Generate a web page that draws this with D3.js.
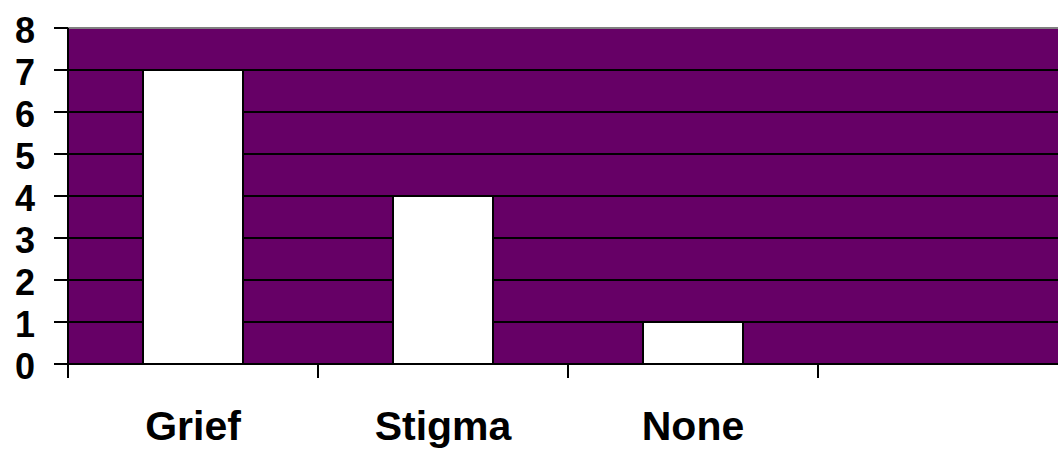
<!DOCTYPE html>
<html>
<head>
<meta charset="utf-8">
<script src="https://cdn.jsdelivr.net/npm/d3@7"></script>
<style>
  body { margin: 0; background: #fff; }
  svg { display: block; }
  text { font-family: "Liberation Sans", Arial, sans-serif; font-weight: bold; fill: #000; }
</style>
</head>
<body>
<svg id="chart" width="1058" height="449"></svg>
<script>
const categories = ['Grief', 'Stigma', 'None', ''];
const counts = [7, 4, 1, null];
const yTicks = [0, 1, 2, 3, 4, 5, 6, 7, 8];

const svg = d3.select('#chart');
const plotLeft = 68, plotRight = 1068, plotTop = 28, plotBottom = 364;

const x = d3.scaleBand().domain(categories).range([plotLeft, plotRight]).padding(0);
const y = d3.scaleLinear().domain([0, 8]).range([plotBottom, plotTop]);

// plot area
svg.append('rect')
  .attr('x', plotLeft).attr('y', plotTop)
  .attr('width', plotRight - plotLeft).attr('height', plotBottom - plotTop)
  .attr('fill', '#660066');

// gridlines
svg.append('g').selectAll('line')
  .data(yTicks.filter((d) => d > 0 && d < 8))
  .join('line')
  .attr('x1', plotLeft).attr('x2', plotRight)
  .attr('y1', (d) => y(d)).attr('y2', (d) => y(d))
  .attr('stroke', '#000').attr('stroke-width', 2);

// top border
svg.append('line')
  .attr('x1', plotLeft).attr('x2', plotRight)
  .attr('y1', y(8)).attr('y2', y(8))
  .attr('stroke', '#808080').attr('stroke-width', 2);

// bars
const data = categories.map((c, i) => ({ c, v: counts[i] })).filter((d) => d.v != null);
svg.append('g').selectAll('rect')
  .data(data)
  .join('rect')
  .attr('x', (d) => x(d.c) + x.bandwidth() * 0.3)
  .attr('width', x.bandwidth() * 0.4)
  .attr('y', (d) => y(d.v))
  .attr('height', (d) => y(0) - y(d.v))
  .attr('fill', '#fff')
  .attr('stroke', '#000')
  .attr('stroke-width', 2);

// y axis
const yAxis = svg.append('g');
yAxis.append('line')
  .attr('x1', plotLeft).attr('x2', plotLeft)
  .attr('y1', y(8)).attr('y2', y(0))
  .attr('stroke', '#000').attr('stroke-width', 2);
yAxis.selectAll('line.tick')
  .data(yTicks)
  .join('line')
  .attr('class', 'tick')
  .attr('x1', plotLeft - 14).attr('x2', plotLeft)
  .attr('y1', (d) => y(d)).attr('y2', (d) => y(d))
  .attr('stroke', '#000').attr('stroke-width', 2);
yAxis.selectAll('text')
  .data(yTicks)
  .join('text')
  .attr('x', 35)
  .attr('y', (d) => y(d) + 15)
  .attr('text-anchor', 'end')
  .style('font-size', '36px')
  .text((d) => d);

// x axis
const xAxis = svg.append('g');
xAxis.append('line')
  .attr('x1', plotLeft).attr('x2', plotRight)
  .attr('y1', y(0)).attr('y2', y(0))
  .attr('stroke', '#000').attr('stroke-width', 2);
xAxis.selectAll('line.tick')
  .data(categories.map((c) => x(c)).concat([plotRight]))
  .join('line')
  .attr('class', 'tick')
  .attr('x1', (d) => d).attr('x2', (d) => d)
  .attr('y1', y(0)).attr('y2', y(0) + 14)
  .attr('stroke', '#000').attr('stroke-width', 2);
xAxis.selectAll('text')
  .data(categories)
  .join('text')
  .attr('x', (d) => x(d) + x.bandwidth() / 2)
  .attr('y', 440)
  .attr('text-anchor', 'middle')
  .style('font-size', '41px')
  .text((d) => d);
</script>
</body>
</html>
